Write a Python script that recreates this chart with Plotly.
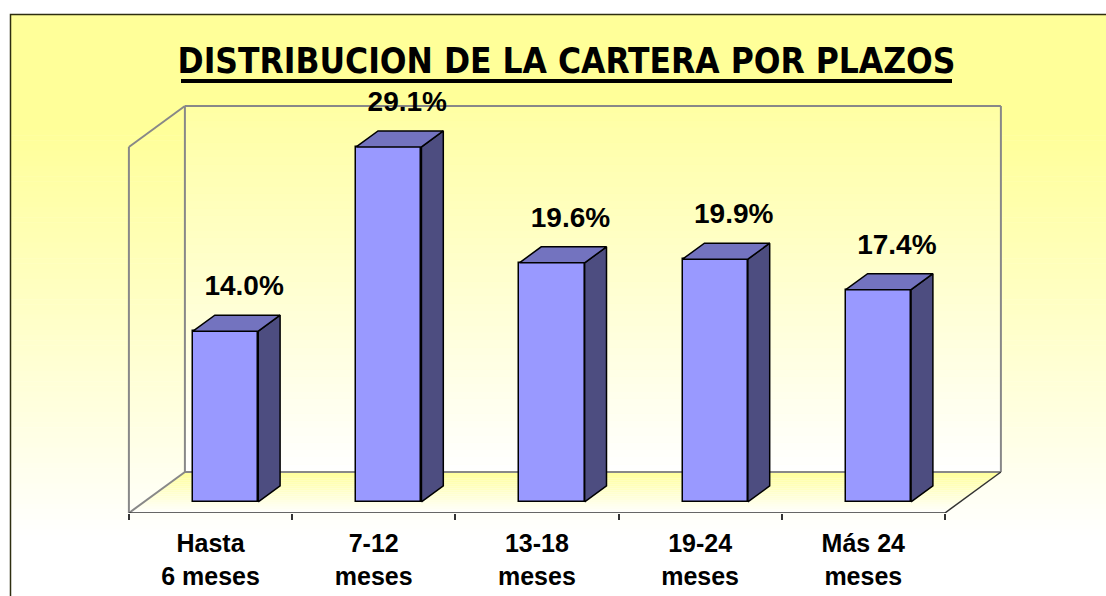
import plotly.graph_objects as go

# ---------------- data ----------------
categories = ["Hasta<br>6 meses", "7-12<br>meses", "13-18<br>meses", "19-24<br>meses", "Más 24<br>meses"]
values = [14.0, 29.1, 19.6, 19.9, 17.4]
value_labels = ["14.0%", "29.1%", "19.6%", "19.9%", "17.4%"]
title_text = "DISTRIBUCION DE LA CARTERA POR PLAZOS"
axis_max = 30

# ---------------- geometry / style ----------------
W, H = 1106, 596
MB = 83                      # bottom margin (px) -> floor front edge
PLOT_H = H - MB
PX_PER_CAT = 163.2
PX_PER_UNIT = 12.2
X0_PX = 210.5                # pixel of first category centre

DX = 56 / PX_PER_CAT         # depth offset in x data units
DY = 41 / PX_PER_UNIT        # depth offset in y data units
Z0, Z1 = 0.27, 0.66          # bar depth extent
BAR_W = 0.4

FRONT = "#9999FF"
TOP = "#7373BF"
SIDE = "#4D4D80"
EDGE = "black"
WALL_LINE = "#888888"

n = len(values)
idx = list(range(n))
xr = [-X0_PX / PX_PER_CAT, (W - X0_PX) / PX_PER_CAT]
yr = [0, PLOT_H / PX_PER_UNIT]


def py(px):
    """pixel row -> paper y"""
    return (PLOT_H - px) / PLOT_H


def px_x(px):
    return px / W


def mix(c1, c2, t):
    t = max(0.0, min(1.0, t))
    return "rgb(%d,%d,%d)" % tuple(round(a + (b - a) * t) for a, b in zip(c1, c2))


YEL = (255, 255, 153)
WHT = (255, 255, 255)

shapes = []
shapes.append(dict(type="rect", xref="paper", yref="paper", x0=px_x(10.5), x1=1.02,
                   y0=py(130), y1=py(14.5), fillcolor=mix(YEL, WHT, 0), line_width=0, layer="below"))
NB = 80
g0, g1 = 130, 540
for k in range(NB):
    a = g0 + (g1 - g0) * k / NB
    b = g0 + (g1 - g0) * (k + 1) / NB
    shapes.append(dict(type="rect", xref="paper", yref="paper", x0=px_x(10.5), x1=1.02,
                       y0=py(b + 0.5), y1=py(a), fillcolor=mix(YEL, WHT, (k + 0.5) / NB),
                       line_width=0, layer="below"))
shapes.append(dict(type="rect", xref="paper", yref="paper", x0=px_x(10.5), x1=1.02,
                   y0=py(600), y1=py(g1), fillcolor="white", line_width=0, layer="below"))

# back wall gradient (data coords)
wx0, wx1 = -0.5 + DX, n - 0.5 + DX
NW = 50
for k in range(NW):
    ya = DY + axis_max * (1 - k / NW)
    yb = DY + axis_max * (1 - (k + 1) / NW)
    shapes.append(dict(type="rect", xref="x", yref="y", x0=wx0, x1=wx1, y0=yb, y1=ya + 0.02,
                       fillcolor=mix(YEL, WHT, 0.1 + 0.9 * (k + 0.5) / NW), line_width=0, layer="below"))

# floor gradient (parallelogram strips, back yellow -> front white)
NF = 20
for k in range(NF):
    za = 1 - k / NF
    zb = 1 - (k + 1) / NF
    p = "M %f,%f L %f,%f L %f,%f L %f,%f Z" % (
        -0.5 + za * DX, za * DY, n - 0.5 + za * DX, za * DY,
        n - 0.5 + zb * DX, zb * DY, -0.5 + zb * DX, zb * DY)
    shapes.append(dict(type="path", xref="x", yref="y", path=p,
                       fillcolor=mix(YEL, WHT, (k + 0.5) / NF), line_width=0, layer="below"))


def seg(xa, ya, xb, yb, color=WALL_LINE, width=2, layer="below"):
    shapes.append(dict(type="line", xref="x", yref="y", x0=xa, y0=ya, x1=xb, y1=yb,
                       line=dict(color=color, width=width), layer=layer))


seg(wx0, DY, wx0, DY + axis_max)                  # back-left vertical
seg(wx0, DY + axis_max, wx1, DY + axis_max)       # back top
seg(wx1, DY, wx1, DY + axis_max)                  # back-right vertical
seg(wx0, DY, wx1, DY)                             # back bottom
seg(-0.5, 0, -0.5, axis_max)                      # side wall front vertical
seg(-0.5, axis_max, wx0, DY + axis_max)           # side wall top
seg(-0.5, 0, wx0, DY)                             # floor left edge
seg(n - 0.5, 0, wx1, DY, color="#333333", width=1.5)  # floor right edge
seg(-0.5, 0, n - 0.5, 0, color="#333333", width=1.5)  # category axis line

# outer border
shapes.append(dict(type="rect", xref="paper", yref="paper", x0=px_x(10.5), x1=1.05,
                   y0=py(620), y1=py(14.5), line=dict(color="#2E2E10", width=1.5),
                   fillcolor="rgba(0,0,0,0)", layer="above"))
# title underline
shapes.append(dict(type="line", xref="paper", yref="paper", x0=px_x(181), x1=px_x(952),
                   y0=py(81), y1=py(81), line=dict(color="black", width=4), layer="above"))

fig = go.Figure()

# front faces
fx = [i + Z0 * DX for i in idx]
fig.add_trace(go.Bar(x=fx, y=values, base=[Z0 * DY] * n, width=BAR_W,
                     marker=dict(color=FRONT, line=dict(color=EDGE, width=1.5)),
                     hoverinfo="skip", showlegend=False))

dxb = (Z1 - Z0) * DX
dyb = (Z1 - Z0) * DY
for i, v in zip(idx, values):
    xl = i + Z0 * DX - BAR_W / 2
    xrr = i + Z0 * DX + BAR_W / 2
    b = Z0 * DY
    fig.add_trace(go.Scatter(x=[xrr, xrr, xrr + dxb, xrr + dxb, xrr],
                             y=[b, b + v, b + v + dyb, b + dyb, b],
                             fill="toself", fillcolor=SIDE, mode="lines",
                             line=dict(color=EDGE, width=1.5), hoverinfo="skip", showlegend=False))
    fig.add_trace(go.Scatter(x=[xl, xrr, xrr + dxb, xl + dxb, xl],
                             y=[b + v, b + v, b + v + dyb, b + v + dyb, b + v],
                             fill="toself", fillcolor=TOP, mode="lines",
                             line=dict(color=EDGE, width=1.5), hoverinfo="skip", showlegend=False))

# value labels
fig.add_trace(go.Scatter(x=[i + 0.6 * DX for i in idx],
                         y=[v + Z1 * DY + 2.2 for v in values],
                         text=value_labels, mode="text", textposition="middle center",
                         textfont=dict(family="Liberation Sans, Arial", size=28, color="black", weight="bold"),
                         hoverinfo="skip", showlegend=False))

fig.update_layout(
    width=W, height=H,
    margin=dict(l=0, r=0, t=0, b=MB, pad=0),
    paper_bgcolor="white", plot_bgcolor="rgba(0,0,0,0)",
    shapes=shapes,
    title=dict(text=title_text, x=566.5 / W, xanchor="center", y=1 - 61 / H, yanchor="middle",
               font=dict(family="DejaVu Sans Condensed, DejaVu Sans", size=35, color="black", weight="bold")),
    xaxis=dict(range=xr, showgrid=False, zeroline=False, showline=False, fixedrange=True,
               tickmode="array", tickvals=idx, ticktext=categories, ticks="",
               tickfont=dict(family="Liberation Sans, Arial", size=25, color="black", weight="bold"),
               ticklabelstandoff=13,
               minor=dict(tickmode="array", tickvals=[i - 0.5 for i in range(n + 1)],
                          ticks="outside", ticklen=6, tickwidth=1.5, tickcolor="#333333", showgrid=False)),
    yaxis=dict(range=yr, visible=False, fixedrange=True),
    bargap=0, showlegend=False, hovermode=False,
)

fig.write_html("out.html", config={"displayModeBar": False},
               post_script="document.body.style.margin='0';")
